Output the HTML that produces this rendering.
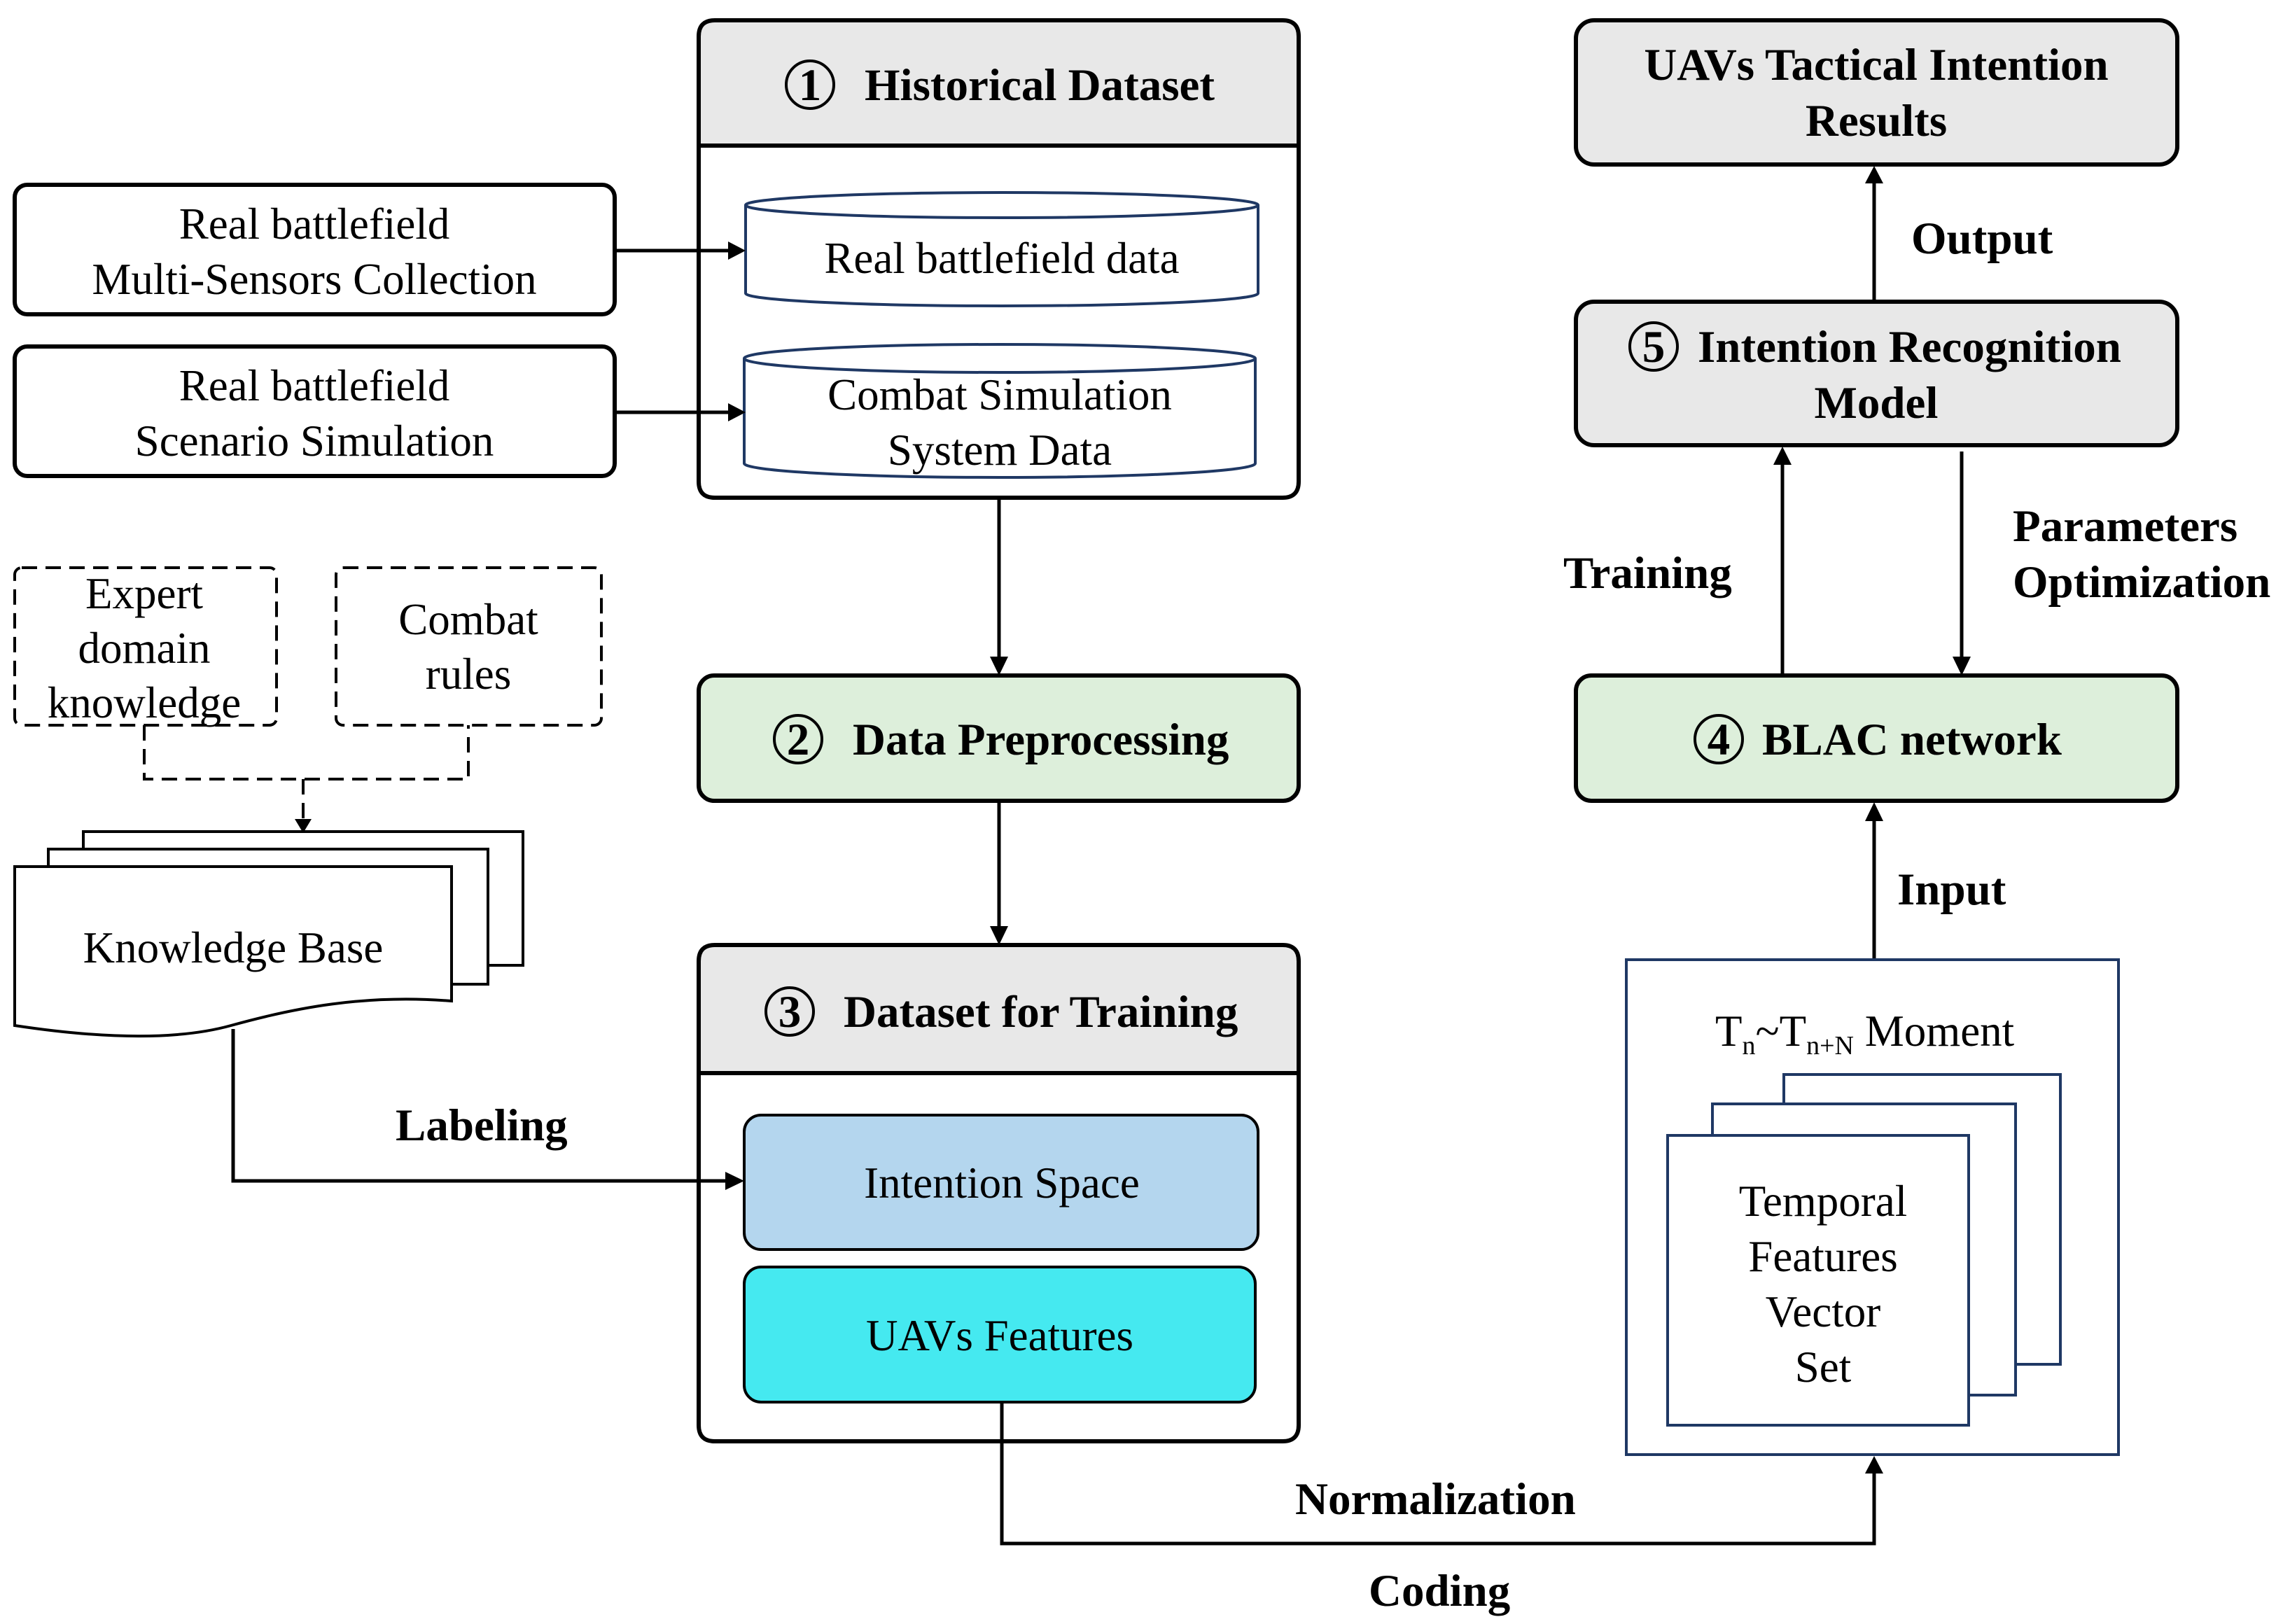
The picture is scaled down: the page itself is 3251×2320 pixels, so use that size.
<!DOCTYPE html>
<html><head><meta charset="utf-8"><style>
html,body{margin:0;padding:0;background:#fff}
svg{display:block}
text{font-family:"Liberation Serif",serif;fill:#000}
.b{font-weight:bold;font-size:65px}
.r{font-size:63px}
</style></head><body>
<svg width="3251" height="2320" viewBox="0 0 3251 2320" xmlns="http://www.w3.org/2000/svg">
<g stroke="#000" stroke-width="6" fill="none">
<path d="M998,208 V52 Q998,29 1021,29 H1832 Q1855,29 1855,52 V208 Z" fill="#e8e8e8"/>
<path d="M998,208 V688 Q998,711 1021,711 H1832 Q1855,711 1855,688 V208 Z"/>
<rect x="21" y="264" width="857" height="185" rx="18"/>
<rect x="21" y="495" width="857" height="185" rx="18"/>
<rect x="998" y="965" width="857" height="179" rx="22" fill="#ddefdb"/>
<path d="M998,1533 V1373 Q998,1350 1021,1350 H1832 Q1855,1350 1855,1373 V1533 Z" fill="#e8e8e8"/>
<path d="M998,1533 V2036 Q998,2059 1021,2059 H1832 Q1855,2059 1855,2036 V1533 Z"/>
<rect x="1063" y="1593" width="734" height="192" rx="24" fill="#b4d6ee" stroke-width="4"/>
<rect x="1063" y="1810" width="730" height="193" rx="24" fill="#45e9f0" stroke-width="4"/>
<rect x="2251" y="29" width="859" height="206" rx="26" fill="#e8e8e8"/>
<rect x="2251" y="431" width="859" height="205" rx="26" fill="#e8e8e8"/>
<rect x="2251" y="965" width="859" height="179" rx="22" fill="#ddefdb"/>
</g>
<g stroke="#1f3864" stroke-width="4" fill="#fff">
<path d="M1065,293 V419 A366,18 0 0 0 1797,419 V293"/>
<ellipse cx="1431" cy="293" rx="366" ry="18"/>
<path d="M1063,512 V662 A365,20 0 0 0 1793,662 V512"/>
<ellipse cx="1428" cy="512" rx="365" ry="20"/>
</g>
<g stroke="#000" stroke-width="4" fill="none" stroke-dasharray="22,12">
<rect x="21" y="811" width="374" height="225" rx="10"/>
<rect x="480" y="811" width="379" height="225" rx="10"/>
<path d="M206,1036 V1113 H669 V1036"/>
<path d="M433,1113 V1170"/>
</g>
<path d="M421,1170 L445,1170 L433,1190 Z" fill="#000"/>
<g stroke="#000" stroke-width="4" fill="#fff">
<path d="M119,1379 V1188 H747 V1379 Z"/>
<path d="M69,1406 V1213 H697 V1406 Z"/>
<path d="M21,1238 H645 V1430 C520,1420 420,1440 330,1465 C240,1490 120,1480 21,1465 Z"/>
</g>
<g stroke="#000" stroke-width="5" fill="none">
<line x1="878" y1="358" x2="1045" y2="358"/>
<line x1="878" y1="589" x2="1045" y2="589"/>
<line x1="1427" y1="711" x2="1427" y2="940"/>
<line x1="1427" y1="1144" x2="1427" y2="1325"/>
<path d="M333,1470 V1687 H1040"/>
<path d="M1431,2003 V2205 H2677 V2100"/>
<line x1="2677" y1="1371" x2="2677" y2="1170"/>
<line x1="2677" y1="431" x2="2677" y2="258"/>
<line x1="2546" y1="965" x2="2546" y2="660"/>
<line x1="2802" y1="645" x2="2802" y2="940"/>
</g>
<g fill="#000">
<path d="M1065,358 L1040,345 L1040,371 Z"/>
<path d="M1065,589 L1040,576 L1040,602 Z"/>
<path d="M1427,965 L1414,938 L1440,938 Z"/>
<path d="M1427,1350 L1414,1323 L1440,1323 Z"/>
<path d="M1063,1687 L1036,1674 L1036,1700 Z"/>
<path d="M2677,2080 L2664,2105 L2690,2105 Z"/>
<path d="M2677,1146 L2664,1173 L2690,1173 Z"/>
<path d="M2677,237 L2664,262 L2690,262 Z"/>
<path d="M2546,638 L2533,664 L2559,664 Z"/>
<path d="M2802,965 L2789,938 L2815,938 Z"/>
</g>
<g stroke="#1f3864" stroke-width="4" fill="#fff">
<rect x="2323" y="1371" width="703" height="707"/>
<rect x="2548" y="1535" width="395" height="414"/>
<rect x="2446" y="1577" width="433" height="416"/>
<rect x="2382" y="1622" width="430" height="414"/>
</g>
<g stroke="#000" stroke-width="4" fill="none">
<circle cx="1157" cy="121" r="34"/>
<circle cx="1140" cy="1056" r="34"/>
<circle cx="1128" cy="1445" r="34"/>
<circle cx="2455" cy="1056" r="34"/>
<circle cx="2362" cy="495" r="34"/>
</g>
<g text-anchor="middle">
<text x="1157" y="143" class="b">1</text>
<text x="1140" y="1078" class="b">2</text>
<text x="1128" y="1467" class="b">3</text>
<text x="2455" y="1078" class="b">4</text>
<text x="2362" y="517" class="b">5</text>
</g>
<text x="1235" y="143" class="b">Historical Dataset</text>
<text x="1218" y="1078" class="b">Data Preprocessing</text>
<text x="1205" y="1467" class="b">Dataset for Training</text>
<text x="2517" y="1078" class="b">BLAC network</text>
<text x="2425" y="517" class="b">Intention Recognition</text>
<text x="2680" y="597" class="b" text-anchor="middle">Model</text>
<text x="2680" y="114" class="b" text-anchor="middle">UAVs Tactical Intention</text>
<text x="2680" y="194" class="b" text-anchor="middle">Results</text>
<g class="r" text-anchor="middle">
<text x="449" y="341">Real battlefield</text>
<text x="449" y="420">Multi-Sensors Collection</text>
<text x="449" y="572">Real battlefield</text>
<text x="449" y="651">Scenario Simulation</text>
<text x="1431" y="390">Real battlefield data</text>
<text x="1428" y="585">Combat Simulation</text>
<text x="1428" y="664">System Data</text>
<text x="206" y="869">Expert</text>
<text x="206" y="947">domain</text>
<text x="206" y="1025">knowledge</text>
<text x="669" y="906">Combat</text>
<text x="669" y="984">rules</text>
<text x="333" y="1375">Knowledge Base</text>
<text x="1431" y="1711">Intention Space</text>
<text x="1428" y="1929">UAVs Features</text>
<text x="2604" y="1737">Temporal</text>
<text x="2604" y="1816">Features</text>
<text x="2604" y="1895">Vector</text>
<text x="2604" y="1974">Set</text>
</g>
<text x="2450" y="1494" class="r">T<tspan font-size="38" dy="12">n</tspan><tspan dy="-12">~T</tspan><tspan font-size="38" dy="12">n+N</tspan><tspan dy="-12"> Moment</tspan></text>
<text x="565" y="1629" class="b">Labeling</text>
<text x="1850" y="2163" class="b">Normalization</text>
<text x="1955" y="2294" class="b">Coding</text>
<text x="2710" y="1292" class="b">Input</text>
<text x="2233" y="840" class="b">Training</text>
<text x="2875" y="773" class="b">Parameters</text>
<text x="2875" y="853" class="b">Optimization</text>
<text x="2730" y="362" class="b">Output</text>
</svg>
</body></html>
